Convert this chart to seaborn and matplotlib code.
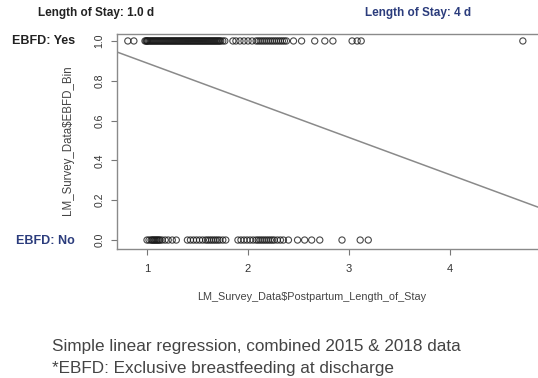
import numpy as np
import pandas as pd
import matplotlib
matplotlib.use("Agg")
import matplotlib.pyplot as plt
import seaborn as sns

# ---- data ----
stay_yes = [0.81, 0.87,
            0.98, 0.99, 1.00, 1.00, 1.01, 1.02, 1.03, 1.04, 1.05, 1.06, 1.07, 1.08,
            1.09, 1.10, 1.11, 1.12, 1.13, 1.14, 1.15, 1.16, 1.17, 1.18, 1.19, 1.20,
            1.21, 1.22, 1.23, 1.24, 1.25, 1.26, 1.27, 1.28, 1.29, 1.30, 1.31, 1.32,
            1.33, 1.34, 1.35, 1.36, 1.37, 1.38, 1.39, 1.40, 1.41, 1.42, 1.43, 1.44,
            1.45, 1.46, 1.47, 1.48, 1.49, 1.50, 1.51, 1.52, 1.53, 1.54, 1.55, 1.56,
            1.57, 1.58, 1.59, 1.60, 1.61, 1.62, 1.63, 1.64, 1.65, 1.66, 1.67, 1.68,
            1.69, 1.70, 1.71, 1.72, 1.73, 1.75, 1.77,
            1.85, 1.88, 1.92, 1.96, 2.00, 2.04,
            2.08, 2.10, 2.12, 2.14, 2.16, 2.18, 2.20, 2.22, 2.24, 2.26, 2.28, 2.30,
            2.32, 2.34, 2.36, 2.38,
            2.45, 2.53, 2.66, 2.76, 2.84, 3.03, 3.08, 3.12, 4.72]
stay_no = [1.00, 1.02, 1.04, 1.05, 1.06, 1.07, 1.08, 1.09, 1.10, 1.11, 1.12, 1.13,
           1.15, 1.18, 1.21, 1.25, 1.29,
           1.40, 1.43, 1.46, 1.49, 1.52, 1.55, 1.58, 1.60, 1.62, 1.64, 1.66, 1.68,
           1.70, 1.72, 1.75, 1.78,
           1.90, 1.93, 1.96, 1.99, 2.02, 2.05, 2.08, 2.10, 2.12, 2.14, 2.16, 2.18,
           2.20, 2.22, 2.24, 2.26, 2.29, 2.32, 2.35,
           2.40, 2.49, 2.56, 2.63, 2.71, 2.93, 3.11, 3.19]
ebfd_yes = [1.0] * len(stay_yes)
ebfd_no = [0.0] * len(stay_no)

lm_intercept = 1.076
lm_slope = -0.187

x_ticks = [1, 2, 3, 4]
y_ticks = [0.0, 0.2, 0.4, 0.6, 0.8, 1.0]
y_tick_labels = ["0.0", "0.2", "0.4", "0.6", "0.8", "1.0"]

df = pd.DataFrame({
    "stay": stay_yes + stay_no,
    "ebfd": ebfd_yes + ebfd_no,
})

sns.set_style("white")
plt.rcParams["font.family"] = ["Liberation Sans", "DejaVu Sans"]

fig = plt.figure(figsize=(5.38, 3.78), dpi=100)
ax = fig.add_axes([117 / 538, 1 - 249 / 378, (538 - 117) / 538, (249 - 34) / 378])

sns.scatterplot(data=df, x="stay", y="ebfd", ax=ax, marker="o", s=20,
                facecolor="none", edgecolor="#1a1a1a", linewidth=0.8, alpha=0.8)
ax.axline((0, lm_intercept), slope=lm_slope, color="#8a8a8a", lw=1.1)

ax.set_xlim(0.703, 4.87)
ax.set_ylim(-0.045, 1.035)
ax.set_xticks(x_ticks)
ax.set_xticklabels([str(t) for t in x_ticks], fontsize=8, color="#333333")
ax.set_yticks(y_ticks)
ax.set_yticklabels(y_tick_labels, fontsize=7.5, color="#333333", rotation=90, va="center")
ax.tick_params(axis="x", direction="out", length=4, width=0.8, color="#777777",
               bottom=True, pad=7)
ax.tick_params(axis="y", direction="out", length=4, width=0.8, color="#777777",
               left=True, pad=5)
for side in ["top", "bottom", "left"]:
    ax.spines[side].set_color("#8a8a8a")
    ax.spines[side].set_linewidth(1.0)
ax.spines["right"].set_visible(False)

ax.set_xlabel("")
ax.set_ylabel("")
fig.text(68 / 538, 1 - 140 / 378, "LM_Survey_Data$EBFD_Bin", rotation=90,
         ha="center", va="center", fontsize=8.3, color="#444444")
fig.text(312 / 538, 1 - 297 / 378, "LM_Survey_Data$Postpartum_Length_of_Stay",
         ha="center", va="center", fontsize=7.8, color="#444444")

fig.text(38 / 538, 1 - 13 / 378, "Length of Stay: 1.0 d", ha="left", va="center",
         fontsize=8.5, color="#222222", fontweight="bold")
fig.text(365 / 538, 1 - 13 / 378, "Length of Stay: 4 d", ha="left", va="center",
         fontsize=8.5, color="#2b3c7c", fontweight="bold")
fig.text(75 / 538, 1 - 41 / 378, "EBFD: Yes", ha="right", va="center",
         fontsize=9, color="#222222", fontweight="bold")
fig.text(75 / 538, 1 - 241 / 378, "EBFD: No", ha="right", va="center",
         fontsize=9, color="#2b3c7c", fontweight="bold")

fig.text(52 / 538, 1 - 346 / 378, "Simple linear regression, combined 2015 & 2018 data",
         ha="left", va="center", fontsize=12.3, color="#444444")
fig.text(52 / 538, 1 - 368 / 378, "*EBFD: Exclusive breastfeeding at discharge",
         ha="left", va="center", fontsize=12.3, color="#444444")

fig.savefig("out.png", dpi=100)
